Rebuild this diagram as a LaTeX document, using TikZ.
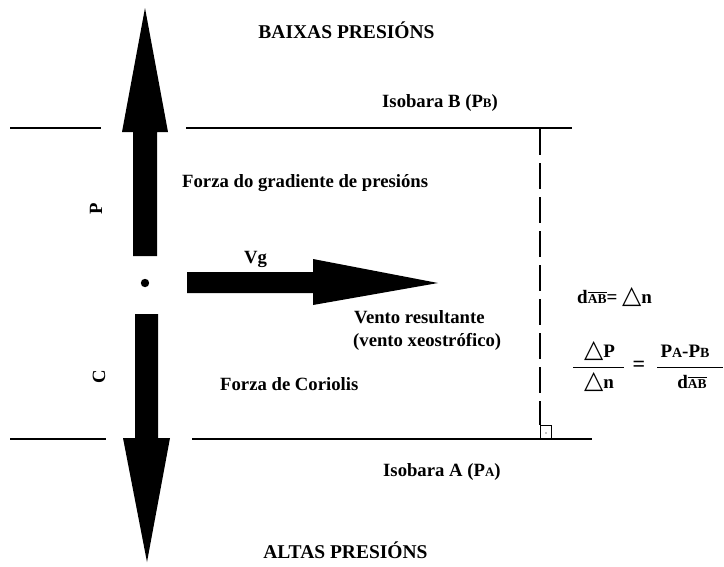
\documentclass[tikz,border=0pt]{standalone}
\usepackage{fontspec}
\setmainfont{Liberation Serif}
\newfontfamily\dvs{DejaVu Sans}
\newcommand{\smc}[1]{{\fontsize{13}{13}\selectfont #1}}
\newcommand{\smf}[1]{{\fontsize{14}{14}\selectfont #1}}
\newcommand{\tri}{{\dvs\fontsize{25}{25}\selectfont △}}
\newcommand{\ovAB}{$\overline{\hbox{\fontsize{13.5}{13.5}\selectfont\bfseries AB}}$}
\begin{document}
\begin{tikzpicture}[x=1pt,y=-1pt,
  lbl/.style={font=\fontsize{18.7}{20}\selectfont\bfseries, inner sep=0pt},
  ttl/.style={font=\fontsize{19.5}{20}\selectfont\bfseries, inner sep=0pt},
  frm/.style={font=\fontsize{19}{20}\selectfont\bfseries, inner sep=0pt},
  isob/.style={line width=2.6pt},
  bigarrow/.style={fill=black}]
\useasboundingbox (0,0) rectangle (724,566);
% isobars
\draw[isob] (10,128) -- (101,128);
\draw[isob] (186,128) -- (572,128);
\draw[isob] (10,439) -- (106,439);
\draw[isob] (192,439) -- (592,439);
% dashed perpendicular
\draw[line width=1.1pt, dash pattern=on 26pt off 8pt] (540,129) -- (540,425);
\draw[line width=0.9pt] (540,439) -- (540,425) -- (551,425) -- (551,439);
\fill (546,433) circle (0.6);
% arrows
\fill[bigarrow] (133,256) -- (133,132) -- (122,132) -- (145,8) -- (168,132) -- (157,132) -- (157,256) -- cycle;
\fill[bigarrow] (135,314) -- (135,438) -- (123,438) -- (147,562) -- (170,438) -- (158,438) -- (158,314) -- cycle;
\fill[bigarrow] (187,272) -- (313,272) -- (313,259) -- (438,283) -- (313,305) -- (313,293) -- (187,293) -- cycle;
\fill (145,283) circle (4.2);
% labels
\node[ttl, anchor=base] (baixas) at (346.5,38) {BAIXAS PRESIÓNS};
\node[ttl, anchor=base] (altas) at (345.5,558) {ALTAS PRESIÓNS};
\node[lbl, anchor=base west] (isoB) at (382,107) {Isobara B (P\smc{B})};
\node[lbl, anchor=base west] (isoA) at (383,476) {Isobara A (P\smc{A})};
\node[lbl, anchor=base west] (fgp) at (182,187) {Forza do gradiente de presións};
\node[lbl, anchor=base west] (vg) at (244,263) {Vg};
\node[lbl, anchor=base west] (vr1) at (354,323) {Vento resultante};
\node[lbl, anchor=base west] (vr2) at (353,346) {(vento xeostrófico)};
\node[lbl, anchor=base west] (fc) at (220,390) {Forza de Coriolis};
\node[lbl, rotate=90] (P) at (96,209) {P};
\node[lbl, rotate=90] (C) at (99,377) {C};
% formulas
\node[frm, anchor=base west] (dab) at (577,303) {d\ovAB= \tri n};
\node[frm, anchor=base west] (num1) at (584,357) {\tri P};
\node[frm, anchor=base west] (den1) at (584,388) {\tri n};
\node[frm, font=\fontsize{22}{22}\selectfont\bfseries] (eq) at (639,366) {=};
\node[frm, anchor=base] (num2) at (685,357) {P\smf{A}-P\smf{B}};
\node[frm, anchor=base] (den2) at (692,388) {d\ovAB};
\draw[line width=0.9pt] (573,367) -- (624,367);
\draw[line width=0.9pt] (657,367) -- (723,367);
\end{tikzpicture}
\end{document}
